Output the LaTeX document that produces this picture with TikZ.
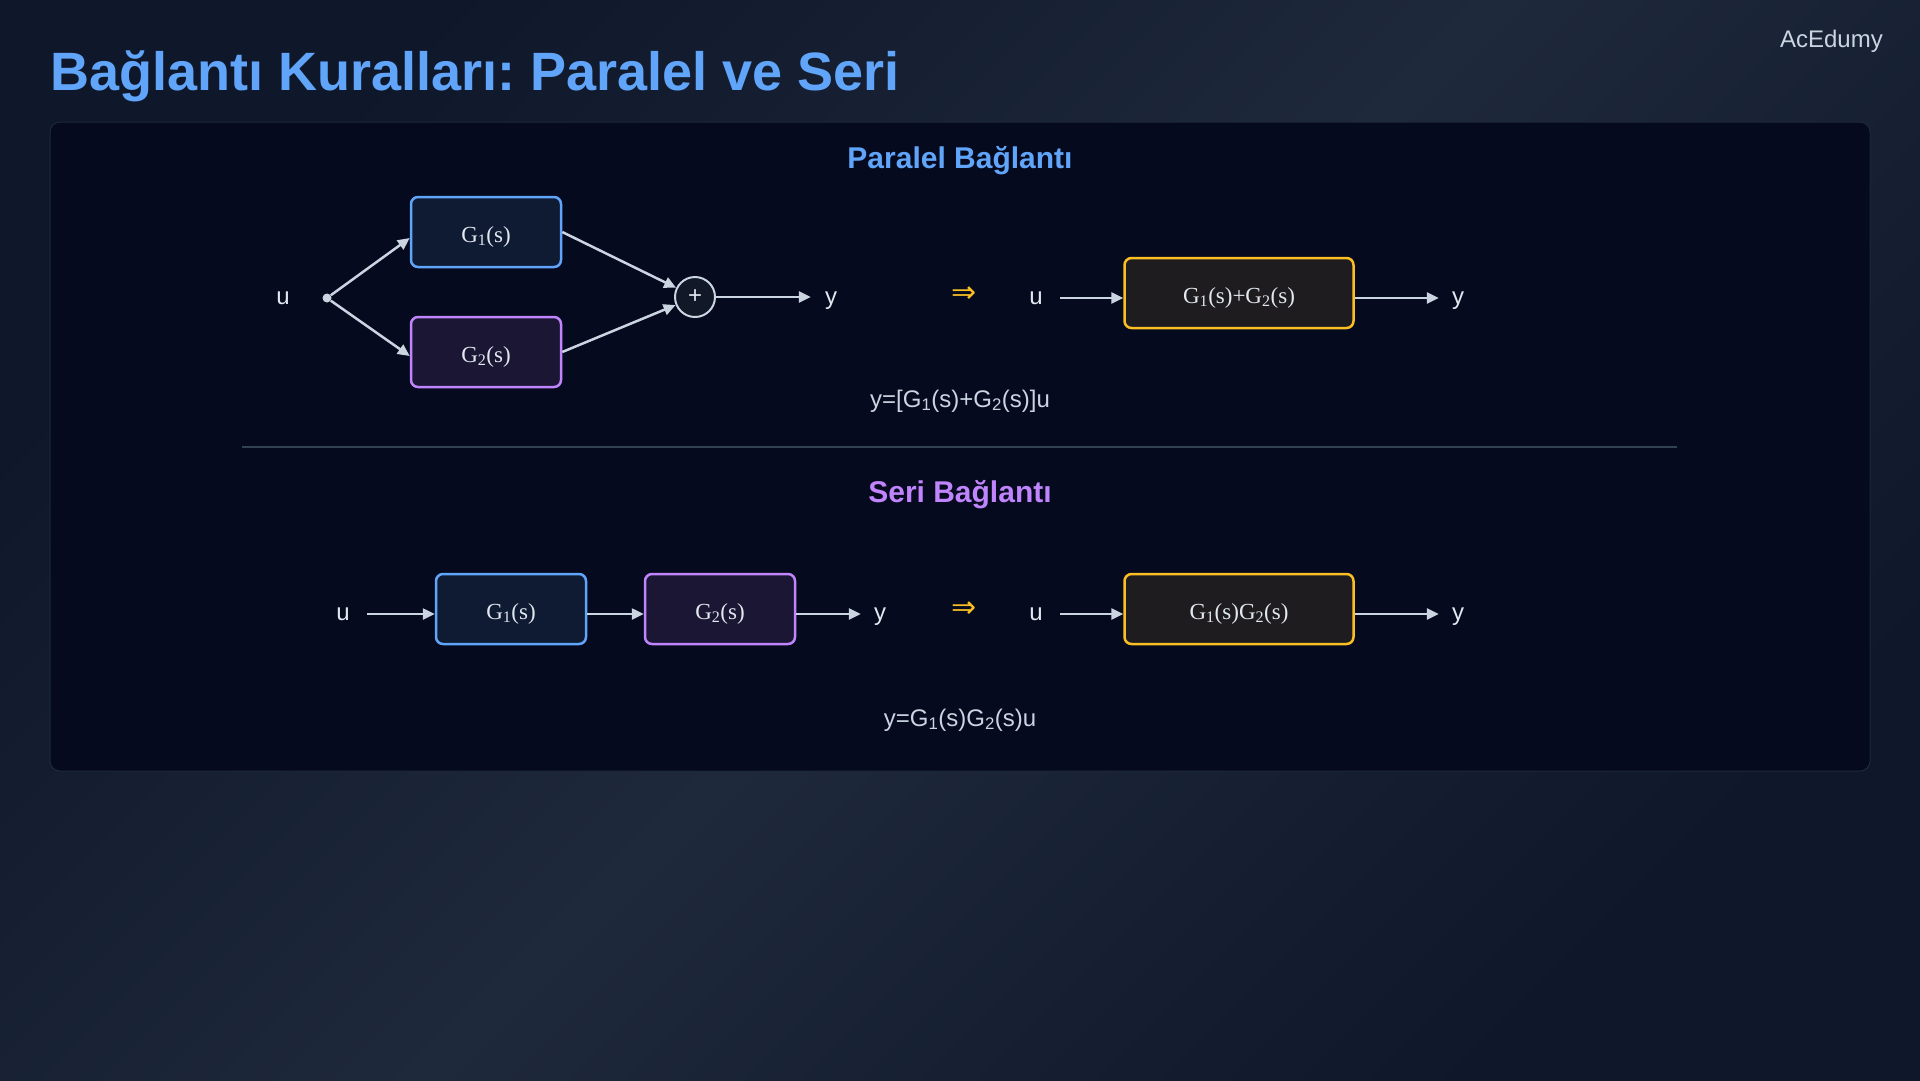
\documentclass[tikz,border=0pt]{standalone}
\usepackage{fontspec}
\setmainfont{Liberation Serif}
\setsansfont{Liberation Sans}
\newfontfamily\symfont{DejaVu Sans}
\usetikzlibrary{arrows.meta,calc}
\frenchspacing
\definecolor{bgA}{HTML}{0F172A}
\definecolor{bgB}{HTML}{1E293B}
\definecolor{panelc}{HTML}{050A1E}
\definecolor{panelb}{HTML}{1E293B}
\definecolor{divc}{HTML}{334155}
\definecolor{blu}{HTML}{60A5FA}
\definecolor{pur}{HTML}{C084FC}
\definecolor{amb}{HTML}{FBBF24}
\definecolor{lin}{HTML}{CBD5E1}
\definecolor{txt}{HTML}{E2E8F0}
\definecolor{fblu}{HTML}{0F1A33}
\definecolor{fpur}{HTML}{1A1633}
\definecolor{fblk}{HTML}{1E1C1F}
\definecolor{fsum}{HTML}{111827}
\begin{document}
\begin{tikzpicture}[x=1pt,y=-1pt,
  blk/.style={draw, line width=2.5pt, rounded corners=7pt, minimum height=70pt,
    text=txt, font=\fontsize{23}{26}\selectfont, inner sep=0pt,
    text height=24pt, text depth=4pt},
  bone/.style={blk, draw=blu, fill=fblu, minimum width=150pt},
  btwo/.style={blk, draw=pur, fill=fpur, minimum width=150pt},
  bsum/.style={blk, draw=amb, fill=fblk, minimum width=229pt},
  lab/.style={text=txt, font=\sffamily\fontsize{24}{28}\selectfont, inner sep=0pt,
    text height=17pt, text depth=4.5pt},
  arr/.style={draw=lin, line width=2.5pt, -{Triangle[length=12pt,width=11pt]}},
  impl/.style={text=amb, font=\symfont\fontsize{30}{34}\selectfont, inner sep=0pt},
  formula/.style={text=lin, font=\sffamily\fontsize{24}{28}\selectfont, inner sep=0pt, anchor=base},
  sect/.style={font=\sffamily\bfseries\fontsize{30}{34}\selectfont, inner sep=0pt, anchor=base}
]
\useasboundingbox (0,0) rectangle (1920,1080);
\shade[top color=bgA, bottom color=bgA, middle color=bgB, shading angle=45] (0,0) rectangle (1920,1080);

% title and brand
\node[anchor=base west, inner sep=0pt, text=blu, font=\sffamily\bfseries\fontsize{54}{60}\selectfont] (title) at (50,90) {Bağlantı Kuralları: Paralel ve Seri};
\node[anchor=base east, inner sep=0pt, text=lin, font=\sffamily\fontsize{24}{28}\selectfont] (brand) at (1883,47) {AcEdumy};

% panel
\draw[panelb, fill=panelc, rounded corners=10pt, line width=1pt] (50,122) rectangle (1870,771);
\draw[divc, line width=1.2pt] (242,447) -- (1677,447);

% ---------- Parallel ----------
\node[sect, text=blu] (ptitle) at (960,168) {Paralel Bağlantı};

\node[lab] (u1) at (283,298) {u};
\node[circle, fill=lin, inner sep=0pt, minimum size=9pt] (dot) at (327,298) {};
\node[bone] (g1) at (486,232) {G\textsubscript{1}(s)};
\node[btwo] (g2) at (486,352) {G\textsubscript{2}(s)};
\node[circle, draw=lin, fill=fsum, line width=2pt, minimum size=40pt, inner sep=0pt,
      text=txt, font=\sffamily\fontsize{24}{28}\selectfont] (sum) at (695,297) {+};
\node[lab] (y1) at (831,298) {y};

\draw[arr] (dot) -- ([yshift=-6pt]g1.west);
\draw[arr] (dot) -- ([yshift=-4pt]g2.west);
\draw[arr] (g1.east) -- (sum);
\draw[arr] (g2.east) -- (sum);
\draw[arr] (sum) -- (sum -| {$(y1.west)+(-14,0)$});

\node[impl] (imp1) at (964,295) {⇒};

\node[lab] (u2) at (1036,298) {u};
\node[bsum] (g12) at (1239,293) {G\textsubscript{1}(s)+G\textsubscript{2}(s)};
\node[lab] (y2) at (1458,298) {y};
\draw[arr] ([xshift=17pt]u2.east) -- (g12.west |- u2.east);
\draw[arr] (g12.east |- y2.west) -- ([xshift=-13pt]y2.west);

\node[formula] (f1) at (960,407) {y=[G\textsubscript{1}(s)+G\textsubscript{2}(s)]u};

% ---------- Series ----------
\node[sect, text=pur] (stitle) at (960,502) {Seri Bağlantı};

\node[lab] (u3) at (343,614) {u};
\node[bone] (s1) at (511,609) {G\textsubscript{1}(s)};
\node[btwo] (s2) at (720,609) {G\textsubscript{2}(s)};
\node[lab] (y3) at (880,614) {y};
\draw[arr] ([xshift=17pt]u3.east) -- (s1.west |- u3.east);
\draw[arr] (s1.east |- u3.east) -- (s2.west |- u3.east);
\draw[arr] (s2.east |- y3.west) -- ([xshift=-13pt]y3.west);

\node[impl] (imp2) at (964,610) {⇒};

\node[lab] (u4) at (1036,614) {u};
\node[bsum] (s12) at (1239,609) {G\textsubscript{1}(s)G\textsubscript{2}(s)};
\node[lab] (y4) at (1458,614) {y};
\draw[arr] ([xshift=17pt]u4.east) -- (s12.west |- u4.east);
\draw[arr] (s12.east |- y4.west) -- ([xshift=-13pt]y4.west);

\node[formula] (f2) at (960,726) {y=G\textsubscript{1}(s)G\textsubscript{2}(s)u};
\end{tikzpicture}
\end{document}
